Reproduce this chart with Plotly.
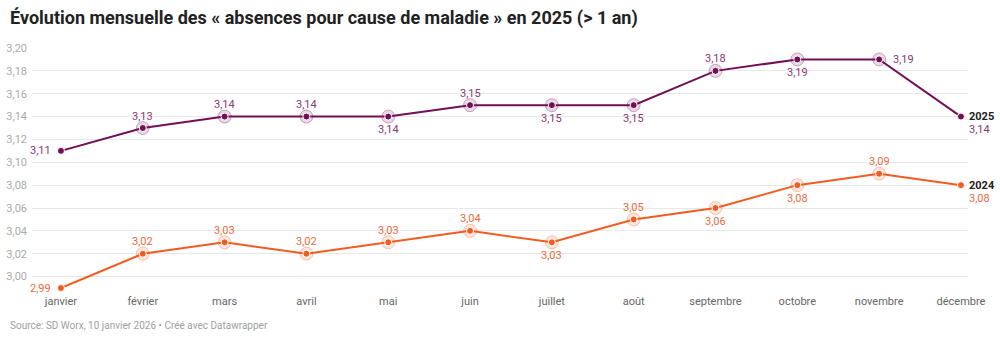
import plotly.graph_objects as go

months = ["janvier", "février", "mars", "avril", "mai", "juin", "juillet",
          "août", "septembre", "octobre", "novembre", "décembre"]
v2025 = [3.11, 3.13, 3.14, 3.14, 3.14, 3.15, 3.15, 3.15, 3.18, 3.19, 3.19, 3.14]
v2024 = [2.99, 3.02, 3.03, 3.02, 3.03, 3.04, 3.03, 3.05, 3.06, 3.08, 3.09, 3.08]
pos2025 = ["left", "top", "top", "top", "bottom", "top", "bottom", "bottom",
           "top", "bottom", "right", "end"]
pos2024 = ["left", "top", "top", "top", "top", "top", "bottom", "top",
           "bottom", "bottom", "top", "end"]
yticks = [3.00, 3.02, 3.04, 3.06, 3.08, 3.10, 3.12, 3.14, 3.16, 3.18, 3.20]

series = [
    ("2025", v2025, pos2025, "#730f55", "#8a3872", "rgba(115,15,85,0.16)", "rgba(115,15,85,0.32)"),
    ("2024", v2024, pos2024, "#f25c22", "#ec6a3c", "rgba(242,92,34,0.16)", "rgba(242,92,34,0.32)"),
]

FONT = "Roboto, 'Noto Sans', sans-serif"
x = list(range(len(months)))
fig = go.Figure()
annotations = []
shift = {"top": (0, 12, "center"), "bottom": (0, -13, "center"),
         "left": (-8, 0, "right"), "right": (12, 0, "left")}
for name, vals, pos, col, lcol, halo, halo_line in series:
    fig.add_trace(go.Scatter(
        x=x[1:-1], y=vals[1:-1], mode="markers", hoverinfo="skip", cliponaxis=False,
        marker=dict(size=13, color=halo, line=dict(width=1, color=halo_line)),
        showlegend=False))
    fig.add_trace(go.Scatter(
        x=x, y=vals, mode="lines+markers", name=name, cliponaxis=False,
        line=dict(color=col, width=2),
        marker=dict(size=7, color=col, line=dict(width=1, color="white")),
        showlegend=False))
    for xi, v, p in zip(x, vals, pos):
        lbl = f"{v:.2f}".replace(".", ",")
        if p == "end":
            annotations.append(dict(x=xi, y=v, xref="x", yref="y", text=f"<b>{name}</b>",
                                    showarrow=False, xanchor="left", yanchor="middle", xshift=6,
                                    font=dict(family=FONT, size=11, color="#222")))
            annotations.append(dict(x=xi, y=v, xref="x", yref="y", text=lbl,
                                    showarrow=False, xanchor="left", yanchor="middle",
                                    xshift=6, yshift=-13,
                                    font=dict(family=FONT, size=11, color=lcol)))
        else:
            dx, dy, xa = shift[p]
            annotations.append(dict(x=xi, y=v, xref="x", yref="y", text=lbl,
                                    showarrow=False, xanchor=xa, yanchor="middle",
                                    xshift=dx, yshift=dy,
                                    font=dict(family=FONT, size=11, color=lcol)))

annotations.append(dict(x=0, y=1, xref="paper", yref="paper", xanchor="left", yanchor="middle",
                        text="<b>Évolution mensuelle des « absences pour cause de maladie » en 2025 (&gt; 1 an)</b>",
                        showarrow=False, xshift=-24, yshift=30,
                        font=dict(family="Roboto", size=18, color="#222")))
annotations.append(dict(x=0, y=0, xref="paper", yref="paper", xanchor="left", yanchor="middle",
                        text="Source: SD Worx, 10 janvier 2026 • Créé avec Datawrapper",
                        showarrow=False, xshift=-24, yshift=-(326 - 288.5),
                        font=dict(family=FONT, size=10, color="#a0a0a0")))

fig.update_layout(
    width=1000, height=340, margin=dict(l=32, r=32, t=48, b=51.5, autoexpand=False),
    paper_bgcolor="white", plot_bgcolor="white", separators=", ",
    font=dict(family=FONT, size=11, color="#666"),
    annotations=annotations,
    xaxis=dict(range=[-0.354, 11.086], tickvals=x, ticktext=months, showgrid=False,
               zeroline=False, showline=False, ticks="outside", ticklen=3, automargin=False,
               tickcolor="rgba(0,0,0,0)", tickfont=dict(size=11, color="#666")),
    yaxis=dict(range=[2.99, 3.20], tickvals=yticks, tickformat=".2f", showgrid=True,
               gridcolor="#e8e8e8", gridwidth=1, zeroline=False, showline=False, automargin=False,
               ticks="", ticklabelstandoff=4, tickfont=dict(size=11, color="#aaa")),
)
fig.write_html("out.html")
